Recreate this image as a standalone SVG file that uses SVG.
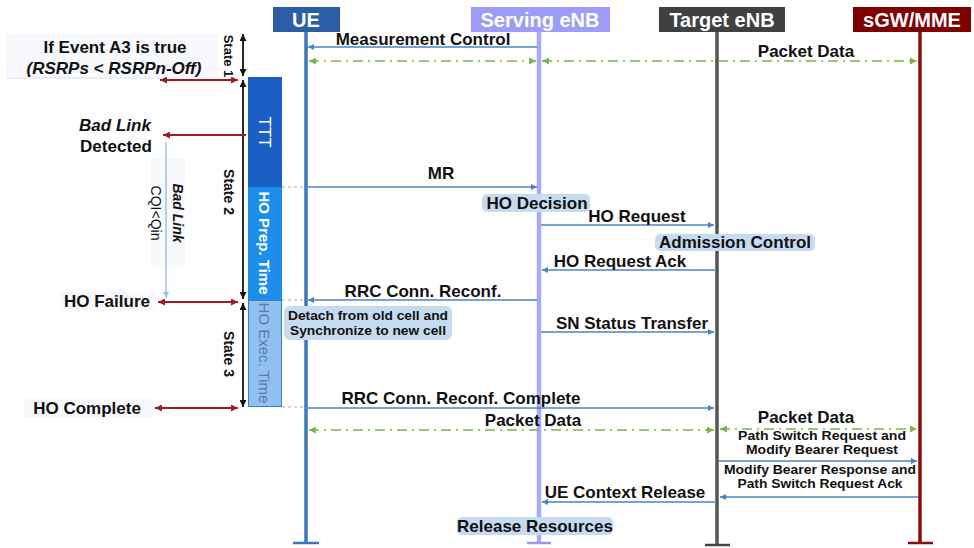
<svg xmlns="http://www.w3.org/2000/svg" width="974" height="548" viewBox="0 0 974 548">
  <defs>
    <marker id="ab" viewBox="0 0 10 10" refX="10" refY="5" markerWidth="7" markerHeight="6" markerUnits="userSpaceOnUse" orient="auto-start-reverse">
      <path d="M0,0 L10,5 L0,10 z" fill="#4a84c4"/>
    </marker>
    <marker id="ag" viewBox="0 0 10 10" refX="10" refY="5" markerWidth="8" markerHeight="7" markerUnits="userSpaceOnUse" orient="auto-start-reverse">
      <path d="M0,0 L10,5 L0,10 z" fill="#7ab648"/>
    </marker>
    <marker id="ar" viewBox="0 0 10 10" refX="10" refY="5" markerWidth="8" markerHeight="7" markerUnits="userSpaceOnUse" orient="auto-start-reverse">
      <path d="M0,0 L10,5 L0,10 z" fill="#a01c1c"/>
    </marker>
    <marker id="ak" viewBox="0 0 10 10" refX="10" refY="5" markerWidth="8" markerHeight="7" markerUnits="userSpaceOnUse" orient="auto-start-reverse">
      <path d="M0,0 L10,5 L0,10 z" fill="#111"/>
    </marker>
    <marker id="al" viewBox="0 0 10 10" refX="10" refY="5" markerWidth="7" markerHeight="6" markerUnits="userSpaceOnUse" orient="auto-start-reverse">
      <path d="M0,0 L10,5 L0,10 z" fill="#9cc0e4"/>
    </marker>
  </defs>
  <style>
    text { font-family: 'Liberation Sans', Arial, sans-serif; }
    .hdr { font-weight: bold; font-size: 20px; fill: #fff; text-anchor: middle; }
    .lbl { font-weight: bold; font-size: 17px; fill: #111; text-anchor: middle; }
    .sm { font-weight: bold; font-size: 12px; fill: #111; text-anchor: middle; }
    .msg { stroke: #4a84c4; stroke-width: 1.5; fill: none; marker-end: url(#ab); }
    .pd { stroke: #7ab648; stroke-width: 1.5; fill: none; stroke-dasharray: 10 5 2 5; marker-start: url(#ag); marker-end: url(#ag); }
    .red { stroke: #a01c1c; stroke-width: 2; fill: none; marker-start: url(#ar); marker-end: url(#ar); }
    .blk { stroke: #111; stroke-width: 1.8; fill: none; marker-start: url(#ak); marker-end: url(#ak); }
    .dot { stroke: #8fb3d8; stroke-width: 1; stroke-dasharray: 3 3; }
    .note { fill: #c6dbf0; }
    .pale { fill: #f7f9fc; }
  </style>

  <rect width="974" height="548" fill="#fff"/>

  <!-- lifelines -->
  <g id="UE">
    <line x1="306" y1="32" x2="306" y2="543" stroke="#3b78b8" stroke-width="3.5"/>
    <line x1="293" y1="543" x2="319" y2="543" stroke="#3b78b8" stroke-width="2.5"/>
    <rect x="273" y="7" width="67" height="25" fill="#2c5ea6"/>
    <text class="hdr" x="306" y="27">UE</text>
  </g>
  <g id="ServingENB">
    <line x1="539" y1="32" x2="539" y2="543" stroke="#a8a8ff" stroke-width="4.5"/>
    <line x1="527" y1="543" x2="551" y2="543" stroke="#9a9af0" stroke-width="2.5"/>
    <rect x="471" y="7" width="139" height="25" fill="#9d9df8"/>
    <text class="hdr" x="540" y="27">Serving eNB</text>
  </g>
  <g id="TargetENB">
    <line x1="717" y1="32" x2="717" y2="545" stroke="#555" stroke-width="3.5"/>
    <line x1="705" y1="545" x2="730" y2="545" stroke="#444" stroke-width="2.5"/>
    <rect x="659" y="7" width="126" height="25" fill="#404040"/>
    <text class="hdr" x="722" y="27">Target eNB</text>
  </g>
  <g id="sGW">
    <line x1="920" y1="32" x2="920" y2="543" stroke="#8b0a0a" stroke-width="3.5"/>
    <line x1="908" y1="543" x2="933" y2="543" stroke="#8b0a0a" stroke-width="2.5"/>
    <rect x="853" y="7" width="118" height="25" fill="#7f0000"/>
    <text class="hdr" x="912" y="27">sGW/MME</text>
  </g>

  <!-- phase bars -->
  <g id="TTT">
    <rect x="248" y="77" width="34" height="110" fill="#1c5fc4"/>
    <text transform="translate(265,132) rotate(90)" text-anchor="middle" dy="6" font-size="17" fill="#fff">TTT</text>
  </g>
  <g id="HOPrep">
    <rect x="248" y="187" width="34" height="113" fill="#1a8eea"/>
    <text transform="translate(265,243) rotate(90)" text-anchor="middle" dy="6" font-size="15" font-weight="bold" fill="#fff">HO Prep. Time</text>
  </g>
  <g id="HOExec">
    <rect x="248.5" y="300.5" width="33" height="106" fill="#8fc1f2" stroke="#3f7dc2" stroke-width="1"/>
    <text transform="translate(265,353) rotate(90)" text-anchor="middle" dy="6" font-size="15" fill="#5b7ba2">HO Exec. Time</text>
  </g>

  <!-- state spans -->
  <g id="States">
    <line class="blk" x1="243" y1="34" x2="243" y2="76"/>
    <text transform="translate(229,56) rotate(90)" text-anchor="middle" dy="5" font-size="13" font-weight="bold" fill="#111">State 1</text>
    <line class="blk" x1="243" y1="80" x2="243" y2="299"/>
    <text transform="translate(229,192) rotate(90)" text-anchor="middle" dy="5" font-size="14" font-weight="bold" fill="#111">State 2</text>
    <line class="blk" x1="243" y1="303" x2="243" y2="407"/>
    <text transform="translate(229,354) rotate(90)" text-anchor="middle" dy="5" font-size="14" font-weight="bold" fill="#111">State 3</text>
  </g>

  <!-- side events -->
  <g id="EventA3">
    <rect class="pale" x="6" y="34" width="212" height="44"/>
    <line x1="8" y1="78" x2="160" y2="78" stroke="#d6e2ee" stroke-width="1"/>
    <text class="lbl" x="115" y="53">If Event A3 is true</text>
    <text class="lbl" x="114" y="74" font-style="italic" font-size="19">(RSRPs &lt; RSRPn-Off)</text>
    <line class="red" x1="160" y1="80" x2="238" y2="80"/>
  </g>
  <g id="BadLink">
    <text class="lbl" x="115" y="131" font-style="italic">Bad Link</text>
    <text class="lbl" x="116" y="152">Detected</text>
    <line stroke="#a01c1c" stroke-width="2" x1="246" y1="135" x2="163" y2="135" marker-end="url(#ar)"/>
    <rect class="pale" x="151" y="158" width="34" height="110"/>
    <line stroke="#9cc0e4" stroke-width="1.5" x1="166" y1="142" x2="166" y2="298" marker-end="url(#al)"/>
    <text transform="translate(178,213) rotate(90)" text-anchor="middle" dy="5" font-size="14" font-weight="bold" font-style="italic" fill="#111">Bad Link</text>
    <text transform="translate(156,213) rotate(90)" text-anchor="middle" dy="5" font-size="14" fill="#111">CQI&lt;Qin</text>
  </g>
  <g id="HOFailure">
    <rect class="pale" x="60" y="292" width="96" height="19"/>
    <text class="lbl" x="107" y="307">HO Failure</text>
    <line class="red" x1="158" y1="302" x2="238" y2="302"/>
  </g>
  <g id="HOComplete">
    <rect class="pale" x="24" y="399" width="128" height="19"/>
    <text class="lbl" x="87" y="414">HO Complete</text>
    <line class="red" x1="155" y1="408" x2="238" y2="408"/>
  </g>

  <!-- notes -->
  <g id="HODecision">
    <rect class="note" x="482" y="194" width="108" height="18" rx="5"/>
    <text class="lbl" x="537" y="209" font-size="16">HO Decision</text>
  </g>
  <g id="AdmissionControl">
    <rect class="note" x="655" y="234" width="160" height="17" rx="5"/>
    <text class="lbl" x="735" y="248" font-size="16">Admission Control</text>
  </g>
  <g id="Detach">
    <rect class="note" x="284" y="306" width="168" height="34" rx="6"/>
    <text class="sm" x="368" y="320" font-size="13" textLength="160" lengthAdjust="spacingAndGlyphs">Detach from old cell and</text>
    <text class="sm" x="368" y="335" font-size="13" textLength="156" lengthAdjust="spacingAndGlyphs">Synchronize to new cell</text>
  </g>
  <g id="ReleaseResources">
    <rect class="note" x="457" y="517" width="156" height="18" rx="5"/>
    <text class="lbl" x="535" y="532" font-size="16">Release Resources</text>
  </g>

  <!-- connectors -->
  <g id="connectors">
    <line class="dot" x1="282" y1="187" x2="304" y2="187"/>
    <line class="dot" x1="282" y1="300" x2="304" y2="300"/>
    <line class="dot" x1="282" y1="407" x2="304" y2="407"/>

    <line class="msg" x1="537" y1="47" x2="308" y2="47"/>
    <line class="pd" x1="309" y1="61" x2="536" y2="61"/>
    <line class="pd" x1="542" y1="61" x2="917" y2="61"/>

    <line class="msg" x1="308" y1="187" x2="537" y2="187"/>
    <line class="msg" x1="541" y1="225" x2="714" y2="225"/>
    <line class="msg" x1="715" y1="270" x2="542" y2="270"/>
    <line class="msg" x1="537" y1="300" x2="308" y2="300"/>
    <line class="msg" x1="541" y1="332" x2="714" y2="332"/>
    <line class="msg" x1="308" y1="408" x2="714" y2="408"/>
    <line class="pd" x1="309" y1="430" x2="714" y2="430"/>
    <line class="pd" x1="720" y1="429" x2="917" y2="429"/>
    <line class="msg" x1="719" y1="461" x2="917" y2="461"/>
    <line class="msg" x1="918" y1="497" x2="720" y2="497"/>
    <line class="msg" x1="715" y1="502" x2="542" y2="502"/>

    <text class="lbl" x="423" y="45">Measurement Control</text>
    <text class="lbl" x="806" y="57">Packet Data</text>
    <text class="lbl" x="441" y="179">MR</text>
    <text class="lbl" x="637" y="222">HO Request</text>
    <text class="lbl" x="620" y="267">HO Request Ack</text>
    <text class="lbl" x="423" y="297">RRC Conn. Reconf.</text>
    <text class="lbl" x="632" y="329">SN Status Transfer</text>
    <text class="lbl" x="461" y="404">RRC Conn. Reconf. Complete</text>
    <text class="lbl" x="533" y="426">Packet Data</text>
    <text class="lbl" x="806" y="423">Packet Data</text>
    <text class="sm" x="822" y="440" textLength="168" lengthAdjust="spacingAndGlyphs">Path Switch Request and</text>
    <text class="sm" x="822" y="454" textLength="152" lengthAdjust="spacingAndGlyphs">Modify Bearer Request</text>
    <text class="sm" x="820" y="474" textLength="192" lengthAdjust="spacingAndGlyphs">Modify Bearer Response and</text>
    <text class="sm" x="820" y="488" textLength="165" lengthAdjust="spacingAndGlyphs">Path Switch Request Ack</text>
    <text class="lbl" x="625" y="498">UE Context Release</text>
  </g>
</svg>
